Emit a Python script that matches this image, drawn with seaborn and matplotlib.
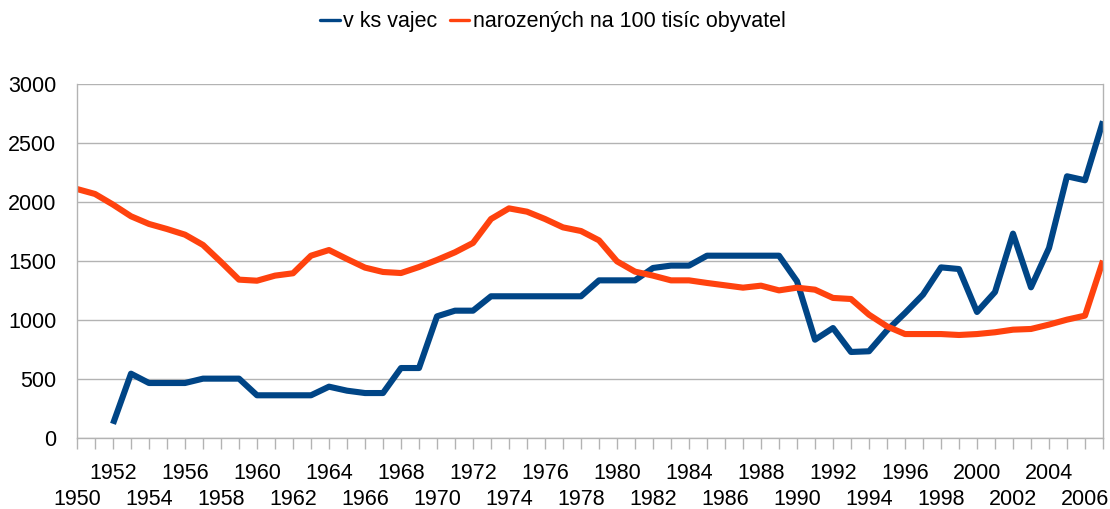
import numpy as np
import pandas as pd
import matplotlib
matplotlib.use("Agg")
import matplotlib.pyplot as plt
import seaborn as sns
from matplotlib.lines import Line2D
from matplotlib.ticker import FixedLocator, FixedFormatter

years = list(range(1950, 2008))

eggs = [np.nan, np.nan, 120, 545, 466, 466, 466, 503, 503, 503,
        362, 362, 362, 362, 435, 401, 381, 381, 593, 593,
        1031, 1079, 1079, 1201, 1201, 1201, 1201, 1201, 1201, 1336,
        1336, 1336, 1441, 1461, 1461, 1545, 1545, 1545, 1545, 1545,
        1328, 833, 932, 729, 735, 912, 1059, 1215, 1446, 1432,
        1068, 1237, 1732, 1277, 1610, 2218, 2184, 2684]

births = [2110, 2068, 1978, 1879, 1814, 1771, 1723, 1636, 1492, 1342,
          1333, 1376, 1396, 1545, 1593, 1517, 1444, 1407, 1398, 1449,
          1509, 1574, 1653, 1856, 1946, 1918, 1856, 1785, 1754, 1675,
          1497, 1410, 1376, 1336, 1336, 1314, 1294, 1274, 1291, 1251,
          1274, 1257, 1187, 1178, 1045, 946, 881, 881, 881, 873,
          881, 896, 918, 924, 961, 1003, 1037, 1503]

series_names = ["v ks vajec", "narozených na 100 tisíc obyvatel"]
colors = ["#004586", "#ff420e"]
yticks = [0, 500, 1000, 1500, 2000, 2500, 3000]

df = pd.DataFrame({
    "rok": years * 2,
    "hodnota": eggs + births,
    "serie": [series_names[0]] * len(years) + [series_names[1]] * len(years),
})

sns.set_theme(style="white")
plt.rcParams["font.family"] = ["Liberation Sans", "DejaVu Sans"]
plt.rcParams["text.color"] = "black"

fs = 15.5
fig = plt.figure(figsize=(11.10, 5.09), dpi=100)
ax = fig.add_axes([77 / 1110, 1 - 438 / 509, (1103 - 77) / 1110, (438 - 84) / 509])

grid_c = "#b3b3b3"
for name, col in zip(series_names, colors):
    sub = df[df["serie"] == name].dropna()
    sns.lineplot(data=sub, x="rok", y="hodnota", color=col, linewidth=4.4,
                 ax=ax, legend=False, solid_joinstyle="round", solid_capstyle="butt")

ax.set_xlim(1950, 2007)
ax.set_ylim(0, 3000)
ax.set_yticks(yticks)
ax.set_yticklabels([str(v) for v in yticks])
ax.yaxis.grid(True, color=grid_c, linewidth=1.0)
ax.set_axisbelow(True)

# upper row labels on major ticks, lower row labels on minor ticks
upper = [y for y in years if (y - 1950) % 4 == 2]
lower = [y for y in years if y not in upper]
ax.xaxis.set_major_locator(FixedLocator(upper))
ax.xaxis.set_major_formatter(FixedFormatter([str(y) for y in upper]))
ax.xaxis.set_minor_locator(FixedLocator(lower))
ax.xaxis.set_minor_formatter(FixedFormatter(
    [str(y) if ((y - 1950) % 4 == 0 and y != 2007) else "" for y in lower]))

ax.tick_params(axis="x", which="both", length=8, width=1, color=grid_c,
               labelsize=fs, labelcolor="black", bottom=True)
ax.tick_params(axis="x", which="major", pad=10)
ax.tick_params(axis="x", which="minor", pad=28.5)
ax.tick_params(axis="y", length=8, width=1, color=grid_c, pad=7, labelsize=fs, labelcolor="black")
ax.set_xlabel("")
ax.set_ylabel("")
for s in ["left", "bottom", "right", "top"]:
    ax.spines[s].set_visible(True)
    ax.spines[s].set_color(grid_c)
    ax.spines[s].set_linewidth(1.0)
ax.spines["top"].set_visible(False)

handles = [Line2D([], [], color=c, linewidth=2.4) for c in colors]
fig.legend(handles, series_names, loc="center", bbox_to_anchor=(0.498, 1 - 22 / 509),
           ncol=2, frameon=False, fontsize=fs, handlelength=0.9,
           handletextpad=0.15, columnspacing=0.6, labelcolor="black")

fig.savefig("out.png", dpi=100)
